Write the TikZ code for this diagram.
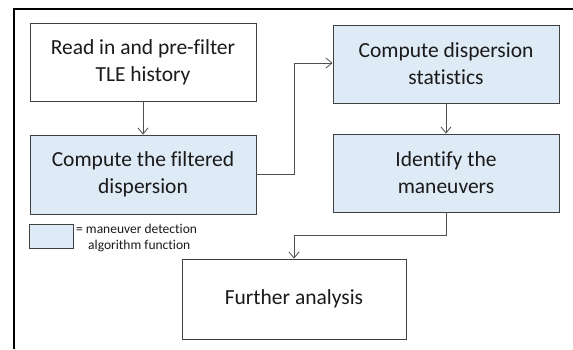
\documentclass[tikz,border=0pt]{standalone}
\usepackage{fontspec}
\setmainfont{Carlito}[Ligatures={NoCommon,NoRequired,NoContextual}]
\usetikzlibrary{arrows.meta}
\definecolor{boxline}{HTML}{404040}
\definecolor{algfill}{HTML}{DEEAF6}
\definecolor{wire}{HTML}{505050}
\definecolor{ink}{HTML}{1A1A1A}
\tikzset{
  stepbox/.style={draw=boxline, line width=0.9pt, fill=white, inner sep=0pt,
    align=center, text=ink, font=\fontsize{21.5}{27}\selectfont},
  algbox/.style={stepbox, fill=algfill},
  keylabel/.style={anchor=base west, inner sep=0pt, text=ink,
    font=\fontsize{13.5}{17}\selectfont},
  flow/.style={draw=wire, line width=0.9pt,
    -{Straight Barb[length=6pt,width=10pt,line width=0.8pt]}},
}
\begin{document}
\begin{tikzpicture}[x=1pt,y=-1pt]
  \useasboundingbox (0,0) rectangle (573,349);
  % surrounding frame, open at the right and bottom
  \draw[line width=1.1pt] (14,349) -- (14,9) -- (573,9);

  % process boxes
  \node[stepbox, minimum width=226pt, minimum height=78pt] (read) at (143,62)
    {Read in and pre-filter\\TLE history};
  \node[algbox, minimum width=226pt, minimum height=79pt] (filt) at (143,174.5)
    {Compute the filtered\\dispersion};
  \node[algbox, minimum width=226pt, minimum height=78pt] (stats) at (446,64)
    {Compute dispersion\\statistics};
  \node[algbox, minimum width=226pt, minimum height=78pt] (ident) at (446,173)
    {Identify the\\maneuvers};
  \node[stepbox, minimum width=224pt, minimum height=80pt] (further) at (294,299)
    {Further analysis};

  % legend
  \node[draw=boxline, line width=0.9pt, fill=algfill, minimum width=44pt,
    minimum height=24pt, inner sep=0pt] (key) at (51,236) {};
  \node[keylabel] (keytext) at (76,233) {= maneuver detection};
  \node[keylabel] (keytext2) at (88,249) {algorithm function};

  % connectors
  \draw[flow] (read) -- (filt);
  \draw[flow] (stats) -- (ident);
  \coordinate (bendA) at (294,174);
  \coordinate (bendB) at (294,63);
  \draw[flow] (filt.east |- bendA) -- (bendA) -- (bendB) -- (stats.west |- bendB);
  \coordinate (bendC) at (446,235);
  \coordinate (bendD) at (294,235);
  \draw[flow] (ident.south) -- (bendC) -- (bendD) -- (further.north);
\end{tikzpicture}
\end{document}
